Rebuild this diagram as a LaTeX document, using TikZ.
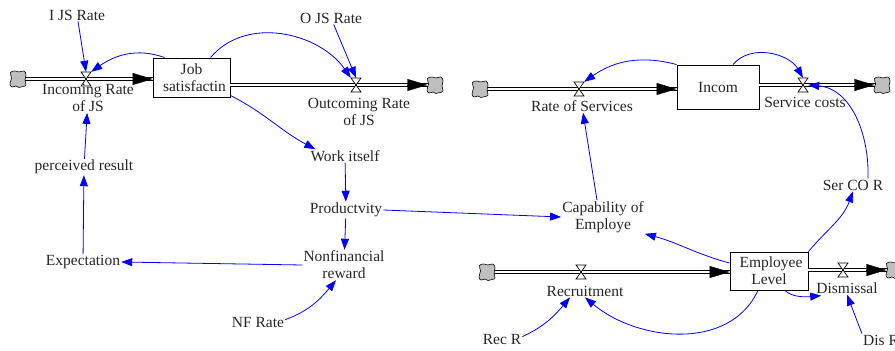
\documentclass[tikz,border=0pt]{standalone}
\usepackage{fontspec}
\setmainfont{Liberation Serif}
\usetikzlibrary{arrows.meta,calc}
\tikzset{
  x=1pt,y=1pt,
  var/.style={font=\rmfamily\fontsize{15.5}{17}\selectfont, align=center, inner sep=1pt, text=black!85},
  stock/.style={var, draw=black, line width=0.9pt, fill=white, inner sep=0pt},
  link/.style={draw=blue, line width=0.8pt, -{Triangle[length=11pt,width=8pt]}},
  pipe/.style={draw=black, line width=1pt, double=white, double distance=2pt},
  flowtip/.style={draw=black, line width=0.4pt, -{Triangle[length=20pt,width=12pt]}},
  anchorpt/.style={inner sep=0pt, minimum width=10pt, minimum height=14pt},
  cloudpt/.style={inner sep=0pt, minimum size=15pt},
  valve/.pic={\draw[black, line width=0.7pt, fill=white] (-5,7) -- (5,7) -- (-5,-7) -- (5,-7) -- cycle;},
  cloud/.pic={\draw[black, line width=0.6pt, fill=black!25] plot[smooth cycle, tension=0.7] coordinates{(-8,-5)(-6,-8)(-2,-7)(1,-8.5)(5,-7.5)(8,-6)(7,-1)(8,4)(6,8)(1,7)(-3,8)(-7.5,6.5)(-6.5,1)};}
}
\begin{document}
\begin{tikzpicture}
\useasboundingbox (0,0) rectangle (895,-351);

% stocks
\node[stock, minimum width=77pt, minimum height=39pt] (js) at (191.5,-77.5) {Job\\\hspace*{6pt}satisfactin};
\node[stock, minimum width=82pt, minimum height=44pt] (incom) at (718,-87) {Incom};
\node[stock, minimum width=78pt, minimum height=38pt] (emp) at (769,-271) {\hspace*{4pt}Employee\\Level};

% clouds
\node[cloudpt] (cA) at (18,-79) {};
\node[cloudpt] (cB) at (435,-85) {};
\node[cloudpt] (cC) at (480,-89) {};
\node[cloudpt] (cD) at (882,-85) {};
\node[cloudpt] (cE) at (487,-272) {};
\node[cloudpt] (cF) at (894,-270) {};

% valves
\node[anchorpt] (v1) at (86,-79) {};
\node[anchorpt] (v2) at (356,-85) {};
\node[anchorpt] (v3) at (579,-89) {};
\node[anchorpt] (v4) at (803,-85) {};
\node[anchorpt] (v5) at (581,-272) {};
\node[anchorpt] (v6) at (843,-270) {};

% pipes
\draw[pipe] (cA.center) -- (cA -| js.west);
\draw[flowtip] ($(cA -| js.west)+(-20,0)$) -- (cA -| js.west);
\draw[pipe] (cB -| js.east) -- (cB.center);
\draw[flowtip] ($(cB.west)+(-20,0)$) -- (cB.west);
\draw[pipe] (cC.center) -- (cC -| incom.west);
\draw[flowtip] ($(cC -| incom.west)+(-20,0)$) -- (cC -| incom.west);
\draw[pipe] (cD -| incom.east) -- (cD.center);
\draw[flowtip] ($(cD.west)+(-20,0)$) -- (cD.west);
\draw[pipe] (cE.center) -- (cE -| emp.west);
\draw[flowtip] ($(cE -| emp.west)+(-20,0)$) -- (cE -| emp.west);
\draw[pipe] (cF -| emp.east) -- (cF.center);
\draw[flowtip] ($(cF.west)+(-20,0)$) -- (cF.west);

\foreach \cc in {cA,cB,cC,cD,cE,cF} \pic at (\cc) {cloud};
\foreach \vv in {v1,v2,v3,v4,v5,v6} \pic at (\vv) {valve};

% variables
\node[var] (ijs) at (77,-15) {I JS Rate};
\node[var] (incL) at (88,-98) {Incoming Rate\\of JS};
\node[var] (ojs) at (331,-18) {O JS Rate};
\node[var] (outL) at (359,-112) {Outcoming Rate\\of JS};
\node[var] (work) at (345,-156) {Work itself};
\node[var] (prod) at (346,-210) {Productvity};
\node[var] (nonf) at (344,-265) {Nonfinancial\\reward};
\node[var] (nfr) at (258,-322) {NF Rate};
\node[var] (expe) at (83,-262) {Expectation};
\node[var] (perc) at (84,-167) {perceived result};
\node[var] (cap) at (603,-217) {Capability of\\Employe};
\node[var] (ros) at (582,-106) {Rate of Services};
\node[var] (sc) at (805,-102) {Service costs};
\node[var] (sercor) at (853,-185) {Ser CO R};
\node[var] (recr) at (585,-291) {Recruitment};
\node[var] (dism) at (847,-288) {Dismissal};
\node[var] (recR) at (502,-339) {Rec R};
\node[var] (disR) at (881,-340) {Dis R};

% links
\draw[link] (ijs) -- (v1.north);
\draw[link] ([xshift=12pt]js.north west) to[out=160,in=35] (v1.north east);
\draw[link] ([xshift=58pt]js.north west) to[out=50,in=125] (v2.north west);
\draw[link] (ojs) -- (v2.north);
\draw[link] ([yshift=2pt]js.south east) to[out=-27,in=152] ([xshift=6pt]work.north west);
\draw[link] (work) -- (prod);
\draw[link] (prod) -- (nonf);
\draw[link] (nonf.west) -- (expe.east);
\draw[link] ([yshift=-4pt]nfr.north east) to[out=20,in=-130] ([xshift=-8pt]nonf.south);
\draw[link] (expe) -- (perc);
\draw[link] (perc) -- (incL);
\draw[link] (prod.east) -- (cap.west);
\draw[link] ([xshift=-6pt]cap.north) -- (ros);
\draw[link] (incom.north west) to[out=165,in=35] (v3.north east);
\draw[link] ([xshift=15pt]incom.north) to[out=50,in=120] (v4.north);
\draw[link] ([xshift=15pt]sercor.north) to[out=88,in=-5] (v4.east);
\draw[link] (emp.north east) to[out=50,in=-110] (sercor.south);
\draw[link] ([yshift=8pt]emp.west) to[out=165,in=-15] (cap.south east);
\draw[link] ([xshift=-11pt]emp.south) to[out=-115,in=-40] (recr.south);
\draw[link] ([xshift=16pt]emp.south) to[out=-45,in=185,looseness=0.8] ([xshift=6pt,yshift=-1pt]dism.south west);
\draw[link] ([yshift=-4pt]recR.north east) to[out=25,in=-130] ([xshift=-15pt]recr.south);
\draw[link] (disR.north west) -- (dism.south);
\end{tikzpicture}
\end{document}
